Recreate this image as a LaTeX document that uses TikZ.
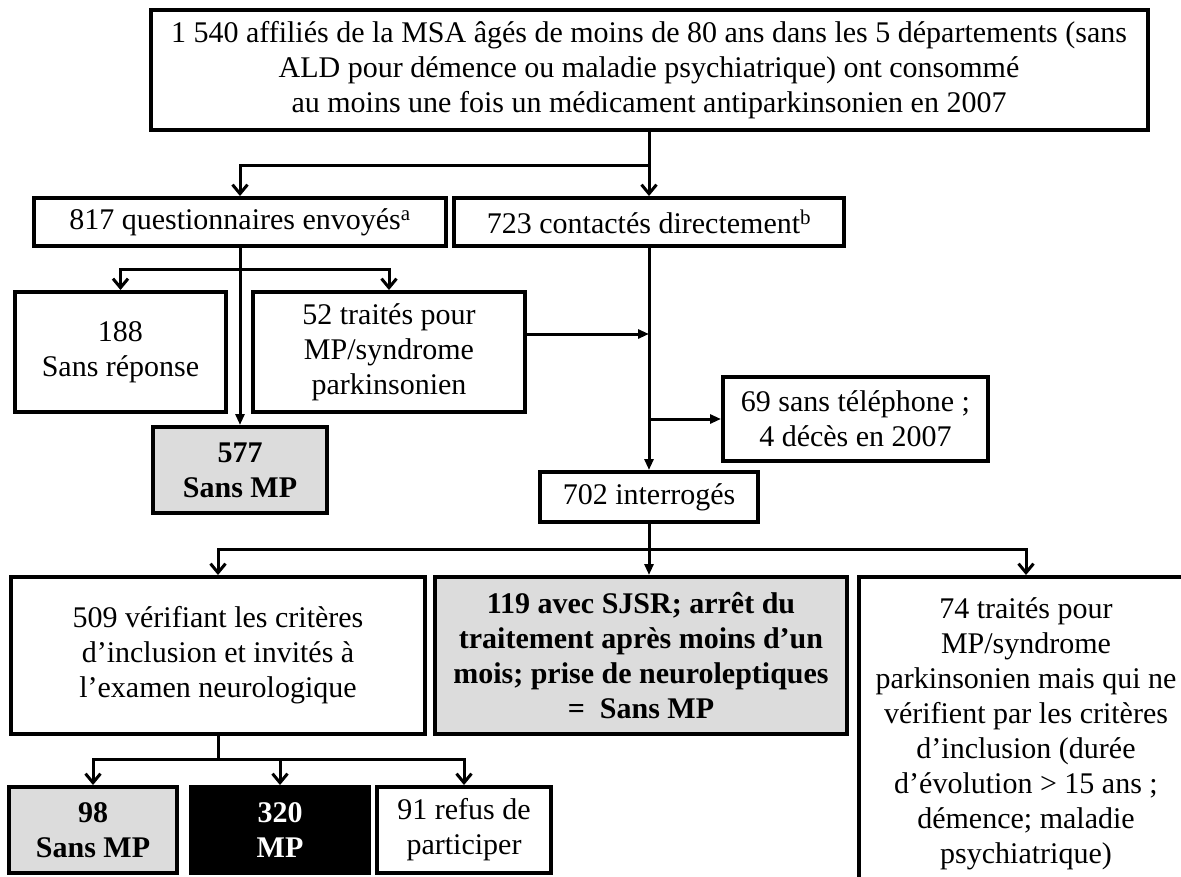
\documentclass[tikz,border=0pt]{standalone}
\usepackage{fontspec}
\setmainfont{Liberation Serif}
\usetikzlibrary{arrows.meta}
\definecolor{boxgray}{HTML}{DCDCDC}
\begin{document}
\begin{tikzpicture}[x=1pt,y=-1pt,
  box/.style={draw, line width=4pt, inner sep=0pt, align=center, font=\fontsize{30}{35}\selectfont},
  graybox/.style={box, fill=boxgray, font=\fontsize{30}{35}\selectfont\bfseries},
  blackbox/.style={box, fill=black, text=white, font=\fontsize{30}{35}\selectfont\bfseries},
  conn/.style={line width=3pt},
  varrow/.style={conn, -{Straight Barb[length=9pt,width=15pt,line width=3pt]}},
  farrow/.style={conn, -{Triangle[length=11pt,width=9pt]}}]
\useasboundingbox (0,0) rectangle (1181,876);
\clip (0,0) rectangle (1181,876);

\node[box, minimum width=997pt, minimum height=120pt] (top) at (649,70)
  {1 540 affiliés de la MSA âgés de moins de 80 ans dans les 5 départements (sans\\ALD pour démence ou maladie psychiatrique) ont consommé\\au moins une fois un médicament antiparkinsonien en 2007};
\node[box, minimum width=412pt, minimum height=48pt] (q817) at (240,222)
  {817 questionnaires envoyés\textsuperscript{a}};
\node[box, minimum width=390pt, minimum height=48pt] (c723) at (649,222)
  {723 contactés directement\textsuperscript{b}};
\node[box, minimum width=211pt, minimum height=120pt] (n188) at (120.5,352)
  {188\\Sans réponse};
\node[box, minimum width=272pt, minimum height=120pt] (n52) at (389,352)
  {52 traités pour\\MP/syndrome\\parkinsonien};
\node[graybox, minimum width=174pt, minimum height=86pt] (n577) at (240,470)
  {577\\Sans MP};
\node[box, minimum width=265pt, minimum height=84pt] (n69) at (855.5,419)
  {69 sans téléphone ;\\4 décès en 2007};
\node[box, minimum width=218pt, minimum height=50pt] (n702) at (649,497)
  {702 interrogés};
\node[box, minimum width=414pt, minimum height=157pt] (n509) at (218,655.5)
  {509 vérifiant les critères\\d’inclusion et invités à\\l’examen neurologique};
\node[graybox, minimum width=412pt, minimum height=157pt] (n119) at (641,655.5)
  {119 avec SJSR; arrêt du\\traitement après moins d’un\\mois; prise de neuroleptiques\\=\ \ Sans MP};
\node[box, minimum width=334pt, minimum height=313pt] (n74) at (1026,733.5)
  {74 traités pour\\MP/syndrome\\parkinsonien mais qui ne\\vérifient par les critères\\d’inclusion (durée\\d’évolution > 15 ans ;\\démence; maladie\\psychiatrique)};
\node[graybox, minimum width=168pt, minimum height=86pt] (n98) at (93,830)
  {98\\Sans MP};
\node[blackbox, minimum width=178pt, minimum height=86pt] (n320) at (280,830)
  {320\\MP};
\node[box, minimum width=174pt, minimum height=86pt] (n91) at (464,830)
  {91 refus de\\participer};

\coordinate (j1) at (649,165);
\coordinate (j2) at (240,269);
\coordinate (j3) at (649,334);
\coordinate (j4) at (649,419);
\coordinate (j5) at (649,549);
\coordinate (j6) at (218,759);

\draw[conn] (top.south) -- (j1);
\draw[varrow] (j1) -| (q817.north);
\draw[varrow] (j1) -- (c723.north);

\draw[farrow] (q817.south) -- (n577.north);
\draw[varrow] (j2) -| (n188.north);
\draw[varrow] (j2) -| (n52.north);

\draw[farrow] (c723.south) -- (n702.north);
\draw[farrow] (n52.east |- j3) -- (j3);
\draw[farrow] (j4) -- (n69.west);

\draw[conn] (n702.south) -- (j5);
\draw[varrow] (j5) -| (n509.north);
\draw[farrow] (j5) -- (j5 |- n119.north);
\draw[varrow] (j5) -| (n74.north);

\draw[conn] (n509.south) -- (j6);
\draw[varrow] (j6) -| (n98.north);
\draw[varrow] (j6) -| (n320.north);
\draw[varrow] (j6) -| (n91.north);
\end{tikzpicture}
\end{document}
